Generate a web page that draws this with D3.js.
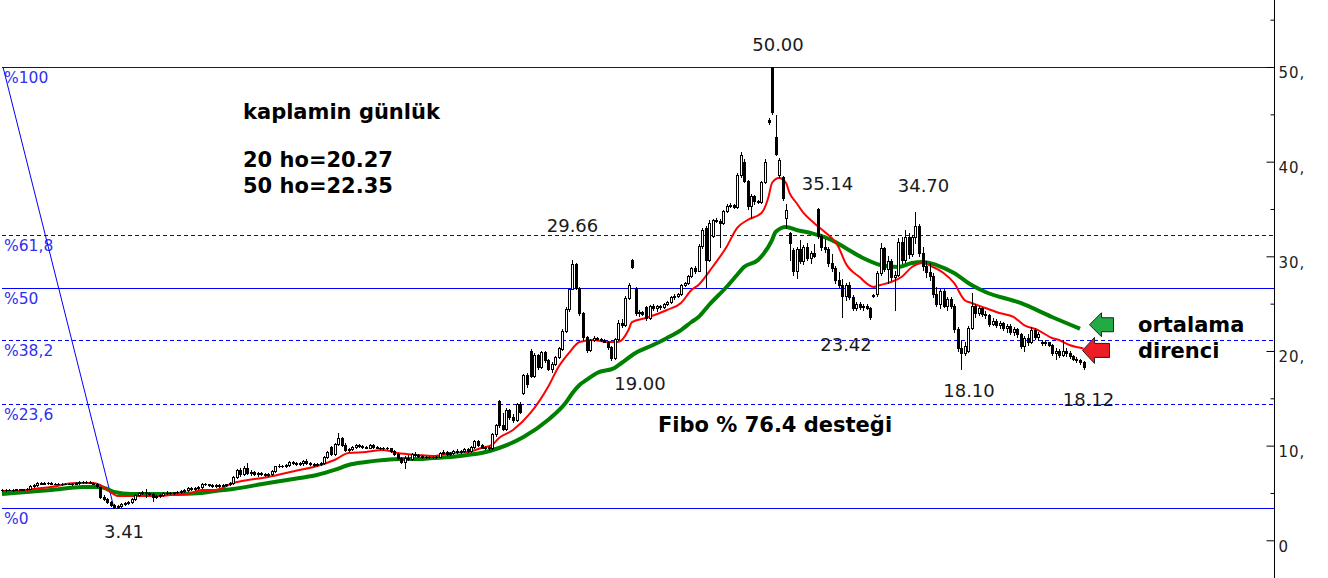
<!DOCTYPE html>
<html><head><meta charset="utf-8">
<script src="https://cdn.jsdelivr.net/npm/d3@7"></script>
<style>html,body{margin:0;padding:0;background:#fff;overflow:hidden}</style>
</head><body><svg id="c" width="1328" height="578"></svg>
<script>
// ---- DATA ----
// daily candles [open, high, low, close]
const candles = [
[5.3,5.4,5.2,5.3],[5.3,5.4,5.25,5.35],[5.35,5.4,5.3,5.3],[5.3,5.4,5.25,5.35],[5.35,5.45,5.3,5.4],[5.4,5.45,5.3,5.35],[5.35,5.4,5.3,5.4],[5.4,5.5,5.35,5.45],[5.45,5.8,5.4,5.7],[5.7,5.9,5.6,5.8],
[5.8,6.2,5.7,6.1],[6.1,6.2,5.95,6.0],[6.0,6.15,5.9,6.1],[6.1,6.2,6.0,6.05],[6.05,6.15,5.95,6.0],[6.0,6.1,5.9,6.0],[6.0,6.1,5.9,5.95],[5.95,6.05,5.85,6.0],[6.0,6.1,5.9,6.0],[6.0,6.05,5.9,5.95],
[5.95,6.05,5.85,6.0],[6.0,6.2,5.95,6.1],[6.1,6.3,6.0,6.2],[6.2,6.3,6.1,6.2],[6.2,6.3,6.1,6.15],[6.15,6.25,6.05,6.1],[6.1,6.2,5.9,6.0],[6.0,6.05,5.6,5.7],[5.6,5.6,4.5,4.6],[4.6,4.8,4.3,4.4],
[4.4,4.5,3.9,4.0],[4.0,4.1,3.6,3.7],[3.7,3.8,3.41,3.5],[3.5,3.7,3.45,3.6],[3.6,3.9,3.5,3.8],[3.8,4.0,3.7,3.9],[3.9,4.1,3.8,4.0],[4.0,4.5,3.95,4.4],[4.4,4.9,4.3,4.8],[4.8,5.1,4.7,5.0],
[5.0,5.2,4.9,5.1],[5.1,5.4,4.6,5.0],[5.0,5.1,4.8,4.9],[4.9,5.0,4.1,4.6],[4.6,4.8,4.5,4.7],[4.7,4.9,4.6,4.8],[4.8,5.1,4.7,5.0],[5.0,5.2,4.9,5.0],[5.0,5.1,4.9,5.0],[5.0,5.1,4.9,5.05],
[5.05,5.2,4.95,5.1],[5.1,5.3,5.0,5.2],[5.2,5.4,5.1,5.3],[5.3,5.6,5.2,5.5],[5.5,5.6,5.3,5.4],[5.4,5.6,5.35,5.5],[5.5,5.7,5.4,5.6],[5.6,6.1,5.5,6.0],[6.0,6.1,5.8,5.9],[5.9,6.0,5.7,5.8],
[5.8,5.9,5.6,5.7],[5.7,5.9,5.6,5.8],[5.8,5.9,5.65,5.75],[5.75,5.9,5.7,5.85],[5.85,6.0,5.75,5.9],[5.9,6.2,5.85,6.1],[6.1,6.8,6.0,6.7],[6.7,7.5,6.6,7.4],[7.4,7.6,6.8,7.0],[7.0,7.8,6.9,7.6],
[7.6,8.2,7.0,7.1],[7.1,7.4,6.9,7.2],[7.2,7.3,6.9,7.0],[7.0,7.2,6.8,7.1],[7.1,7.2,6.9,7.0],[7.0,7.1,6.8,6.9],[6.9,7.1,6.8,7.0],[7.0,7.4,6.9,7.3],[7.3,7.9,7.2,7.8],[7.8,8.1,7.7,7.9],
[7.9,8.0,7.7,7.8],[7.8,8.1,7.75,8.0],[8.0,8.4,7.9,8.3],[8.3,8.4,8.1,8.2],[8.2,8.3,8.0,8.1],[8.1,8.3,8.0,8.2],[8.2,8.5,8.0,8.4],[8.4,8.6,8.1,8.2],[8.2,8.3,8.0,8.1],[8.1,8.2,7.9,8.0],
[8.0,8.2,7.9,8.1],[8.1,8.3,8.0,8.2],[8.2,8.9,8.1,8.8],[8.8,9.4,8.7,9.3],[9.9,10.0,9.0,9.1],[9.1,10.3,9.0,10.2],[10.2,11.3,10.1,10.8],[10.8,10.9,10.0,10.1],[10.1,10.3,9.4,9.5],[9.5,9.8,9.3,9.6],
[9.6,10.0,9.5,9.9],[9.9,10.2,9.8,10.1],[10.1,10.2,9.9,10.0],[10.0,10.1,9.8,9.9],[9.9,10.0,9.7,9.8],[9.8,10.2,9.7,10.1],[10.1,10.2,9.8,9.9],[9.9,10.0,9.7,9.8],[9.8,9.9,9.6,9.7],[9.7,9.9,9.5,9.8],
[9.8,9.9,9.6,9.7],[9.7,9.8,9.3,9.4],[9.4,9.5,9.0,9.1],[9.1,9.2,8.6,8.7],[8.7,8.8,8.2,8.3],[8.3,8.9,7.6,8.7],[8.7,9.0,8.5,8.6],[8.6,9.2,8.5,9.1],[9.1,9.3,8.9,9.0],[9.0,9.1,8.8,8.9],
[8.9,9.0,8.7,8.8],[8.8,8.9,8.7,8.85],[8.85,8.95,8.7,8.8],[8.8,8.9,8.7,8.75],[8.75,8.9,8.7,8.85],[8.85,9.3,8.8,9.2],[9.2,9.5,9.1,9.3],[9.3,9.4,9.0,9.1],[9.1,9.3,9.0,9.2],[9.2,9.5,9.1,9.4],
[9.4,9.6,9.2,9.3],[9.3,9.5,9.2,9.4],[9.4,9.7,9.3,9.6],[9.6,9.7,9.3,9.4],[9.4,10.0,9.3,9.9],[9.9,10.6,9.8,10.5],[10.5,10.6,10.0,10.1],[10.1,10.2,9.7,9.8],[9.8,10.0,9.6,9.9],[9.9,10.0,9.5,9.7],
[9.7,11.3,9.6,11.2],[11.2,12.3,11.0,12.2],[14.7,14.8,12.0,12.2],[12.2,13.4,11.6,11.8],[11.8,14.0,11.7,13.8],[13.8,13.9,12.8,13.0],[13.0,13.3,12.5,12.7],[12.7,14.5,12.6,14.4],[14.4,14.6,13.4,13.6],[15.6,17.6,15.5,17.5],
[17.5,17.7,16.2,16.5],[20.0,20.2,17.2,17.4],[17.4,19.8,17.3,19.6],[19.6,19.7,18.1,18.3],[18.3,20.0,18.2,19.9],[19.9,20.0,18.8,19.0],[19.0,19.1,18.0,18.1],[18.1,18.8,17.8,18.6],[18.6,19.5,18.5,19.4],[19.4,20.4,19.3,20.3],
[20.2,22.3,20.1,22.1],[22.1,24.6,22.0,24.4],[24.4,26.7,24.2,26.5],[26.6,29.66,26.5,29.2],[29.2,29.3,26.5,26.7],[26.7,26.8,23.8,24.0],[24.0,24.1,21.2,21.5],[21.5,21.6,19.9,20.1],[20.1,21.3,20.0,21.2],[21.2,21.6,21.1,21.4],
[21.4,21.5,21.2,21.3],[21.3,21.4,21.1,21.2],[21.2,21.3,20.9,21.0],[21.0,21.1,20.2,20.4],[20.4,20.5,19.0,19.3],[19.3,21.4,19.2,21.3],[21.3,23.3,21.2,23.0],[23.0,23.4,22.5,22.7],[22.7,25.8,22.6,25.6],[25.6,27.2,25.5,27.0],
[29.6,29.7,28.8,28.9],[26.7,26.8,23.8,24.0],[24.0,24.3,23.7,24.1],[24.1,24.2,23.8,23.9],[24.6,24.8,23.3,23.5],[23.5,24.9,23.4,24.8],[24.8,25.0,24.3,24.5],[24.5,24.9,24.2,24.7],[24.7,24.9,24.4,24.6],[24.6,25.1,24.5,25.0],
[25.0,25.3,24.9,25.2],[25.2,25.8,25.1,25.7],[25.7,26.0,25.5,25.8],[25.8,26.1,25.7,26.0],[26.0,27.1,25.9,27.0],[27.0,27.3,26.9,27.2],[27.2,28.0,27.1,27.9],[27.9,28.9,27.8,28.8],[28.8,29.0,28.2,28.5],[28.5,31.3,28.4,31.1],
[31.1,33.0,30.9,32.8],[33.0,33.2,26.8,29.6],[29.6,33.8,29.5,33.5],[32.1,33.9,32.0,33.8],[33.8,34.0,33.6,33.7],[33.7,33.9,31.0,33.5],[33.5,34.9,33.4,34.8],[34.8,35.5,34.7,35.3],[35.3,35.6,35.2,35.4],[35.4,35.5,35.1,35.2],
[35.2,38.8,35.1,38.6],[38.6,41.0,38.4,40.7],[40.0,40.3,37.8,38.0],[38.0,38.1,35.0,35.3],[35.3,36.6,34.1,36.4],[36.4,36.5,35.5,35.8],[35.8,35.9,35.6,35.7],[35.7,38.0,35.6,37.8],[37.8,40.3,37.7,40.0],[44.4,44.6,44.0,44.2],
[50.0,50.0,45.0,45.2],[42.6,44.9,40.7,40.8],[38.6,40.4,38.4,40.2],[38.4,38.5,36.0,36.2],[34.1,35.5,33.0,34.9],[32.5,32.6,29.6,31.4],[30.7,30.9,28.0,28.5],[28.5,31.0,27.7,30.8],[30.8,31.7,29.3,29.5],[29.5,31.2,29.2,31.0],
[31.0,31.4,29.6,29.8],[29.8,30.6,29.3,30.4],[30.4,31.3,29.9,30.0],[35.0,35.14,31.9,32.1],[32.1,32.4,30.7,31.0],[31.0,31.8,30.5,30.8],[30.8,31.0,29.0,29.3],[29.3,30.2,28.5,28.8],[28.8,29.0,27.2,27.5],[27.5,28.3,26.8,27.0],
[27.0,27.6,23.6,25.8],[25.8,27.2,25.4,27.0],[27.0,27.3,25.5,25.7],[25.7,25.9,24.3,24.5],[24.5,25.2,24.3,25.0],[25.0,25.2,24.4,24.6],[24.6,25.0,24.3,24.8],[24.8,25.0,24.4,24.5],[24.5,24.6,23.42,23.6],[25.8,26.0,25.7,25.9],
[26.0,28.4,25.8,28.2],[28.2,31.4,28.0,30.9],[30.9,31.0,28.5,28.7],[28.7,30.0,27.2,29.5],[29.5,29.7,27.5,27.8],[27.8,28.5,24.3,28.0],[28.0,31.9,27.9,31.5],[31.5,32.0,29.3,29.6],[29.6,32.8,29.4,32.0],[32.0,32.5,29.8,30.2],
[30.2,32.3,30.0,32.0],[32.0,34.7,31.4,33.2],[33.2,33.4,30.0,30.4],[30.4,31.0,28.6,29.0],[29.0,29.5,27.8,28.3],[28.3,29.3,27.5,27.9],[27.9,28.2,25.7,26.0],[26.0,26.8,24.7,25.0],[25.0,26.6,24.5,26.3],[26.3,26.5,24.6,24.8],
[24.8,25.7,24.3,25.5],[25.5,25.7,24.5,24.7],[24.7,25.0,22.0,22.3],[22.3,22.5,20.0,20.3],[20.3,21.1,18.1,19.8],[19.8,21.0,19.6,20.5],[20.0,22.6,19.9,22.4],[22.4,26.1,22.3,24.8],[24.8,25.0,23.6,24.0],[24.0,24.7,23.8,24.5],
[24.5,24.6,23.7,23.9],[23.9,24.2,23.5,23.8],[23.8,23.9,22.6,22.9],[22.9,23.5,22.7,23.2],[23.2,23.4,22.5,22.7],[22.7,23.2,22.4,23.0],[23.0,23.1,22.2,22.4],[22.4,22.8,22.0,22.6],[22.6,22.9,21.8,22.0],[22.0,22.5,21.7,22.3],
[22.3,22.4,21.5,21.8],[21.8,21.9,20.3,20.5],[20.5,21.6,20.0,21.4],[21.4,21.8,20.6,20.9],[20.9,22.5,20.8,22.2],[22.2,22.4,21.3,21.5],[21.5,22.0,21.2,21.8],[21.0,21.2,20.6,20.8],[20.8,21.1,20.6,20.9],[20.9,21.0,20.5,20.6],
[20.6,20.7,19.6,19.8],[19.8,20.3,19.2,20.0],[20.0,20.2,19.4,19.6],[19.6,21.2,19.5,20.0],[20.0,20.3,19.5,19.8],[19.8,20.0,19.3,19.5],[19.5,19.6,19.0,19.2],[19.2,19.4,18.8,19.0],[19.0,19.1,18.6,18.8],[18.8,18.9,18.12,18.3]
];

// 20-day moving average: [bar, value]
const ma20 = [[0,5.21],[5,5.21],[9,5.42],[14,5.63],[21,6.05],[26,6.05],[28,5.84],[31,5.10],[33,4.68],[37,4.68],[45,4.68],[48,4.79],[53,4.89],[57,5.31],[61,5.31],[66,6.05],[76,6.69],[85,7.43],[89,7.74],[95,8.48],[99,9.22],[104,9.33],[109,9.54],[113,9.22],[119,9.01],[123,8.91],[128,9.22],[133,9.33],[137,9.75],[140,10.07],[142,10.81],[146,11.65],[151,13.45],[156,16.19],[159,18.31],[162,19.79],[165,20.95],[169,21.16],[173,20.95],[176,20.95],[179,22.21],[180,23.06],[184,23.48],[190,24.33],[194,25.07],[197,26.44],[199,26.97],[203,28.87],[207,30.99],[210,32.99],[213,33.84],[217,34.58],[219,36.27],[220,37.75],[222,38.28],[224,37.75],[225,36.71],[227,35.63],[229,34.58],[232,33.52],[235,32.6],[239,30.99],[241,29.29],[245,27.81],[249,26.76],[251,26.97],[254,27.29],[257,27.81],[260,28.87],[263,29.29],[266,28.87],[269,28.24],[272,27.19],[275,25.39],[277,25.07],[281,24.54],[285,24.01],[289,23.59],[292,22.74],[296,22.21],[300,21.37],[302,21.16],[305,20.63],[309,20.27]];

// 50-day moving average: [bar, value]
const ma50 = [[0,4.89],[7,5.10],[14,5.31],[23,5.63],[28,5.63],[30,5.42],[32,5.10],[37,4.89],[49,4.89],[57,5.0],[61,5.21],[66,5.42],[76,6.05],[85,6.58],[90,6.90],[95,7.43],[99,7.96],[104,8.27],[109,8.48],[114,8.59],[119,8.59],[123,8.69],[128,8.80],[133,9.01],[137,9.22],[142,9.75],[149,10.91],[156,12.71],[161,14.50],[163,15.56],[165,16.41],[167,16.94],[170,17.68],[175,18.21],[177,18.73],[181,19.79],[186,20.63],[190,21.37],[194,22.21],[197,23.06],[199,23.59],[202,24.86],[207,26.76],[210,28.03],[212,28.87],[216,29.61],[220,31.72],[221,32.57],[224,33.10],[227,32.78],[231,32.46],[235,32.04],[237,31.72],[241,30.88],[246,29.82],[251,29.08],[256,28.87],[260,29.29],[263,29.40],[267,29.08],[272,28.24],[277,26.97],[281,26.23],[291,25.07],[300,23.59],[308,22.35]];

const swingHigh = {bar: 0, value: 50.00};
const swingLow = {bar: 32, value: 3.41};
const fibRatios = [0, 0.236, 0.382, 0.5, 0.618, 1];
const fibLabels = ["%0", "%23,6", "%38,2", "%50", "%61,8", "%100"];
const fibDashed = [false, true, true, false, true, false];

const axisMajor = [0, 10, 20, 30, 40, 50];
const axisMinor = [5, 15, 25, 35, 45, 55];

const priceNotes = [
  {text: "50.00", bar: 220, value: 50.00, dx: 6, dy: -16},
  {text: "35.14", bar: 233, value: 35.14, dx: 10, dy: -18},
  {text: "34.70", bar: 261, value: 34.70, dx: 8, dy: -20},
  {text: "29.66", bar: 163, value: 29.66, dx: 0, dy: -28},
  {text: "19.00", bar: 174, value: 19.00, dx: 29, dy: 30},
  {text: "23.42", bar: 248, value: 23.42, dx: -24, dy: 32},
  {text: "18.10", bar: 274, value: 18.10, dx: 8, dy: 28},
  {text: "18.12", bar: 309, value: 18.12, dx: 5, dy: 37},
  {text: "3.41", bar: 32, value: 3.41, dx: 10, dy: 30}
];
const titleLines = ["kaplamin günlük", "", "20 ho=20.27", "50 ho=22.35"];
const fiboNote = "Fibo % 76.4 desteği";
const maNote = ["ortalama", "direnci"];
const ma20Last = 20.27, ma50Last = 22.35;

// ---- CHART ----
const W = 1328, H = 578;
const svg = d3.select("#c");
svg.append("rect").attr("width", W).attr("height", H).attr("fill", "#fff");

const x = d3.scaleLinear().domain([0, candles.length - 1]).range([2, 1083.5]);
const y = d3.scaleLinear().domain([0, 50]).range([540.3, 67]);
const axisX = 1274;
const FONT = "'DejaVu Sans', Verdana, sans-serif";

// Fibonacci levels
const fibG = svg.append("g");
const span = swingHigh.value - swingLow.value;
fibRatios.forEach((r, k) => {
  const v = swingLow.value + r * span;
  const yy = Math.round(y(v)) + 0.5;
  fibG.append("line").attr("x1", 2).attr("x2", axisX).attr("y1", yy).attr("y2", yy)
    .attr("stroke", "#0000ff").attr("stroke-width", 1)
    .attr("stroke-dasharray", fibDashed[k] ? "4,3" : null);
  fibG.append("text").attr("x", 4).attr("y", yy + 15.5).text(fibLabels[k])
    .attr("font-family", FONT).attr("font-size", 15.5).attr("fill", "#3030f0");
});
fibG.append("line")
  .attr("x1", x(swingHigh.bar) + 1).attr("y1", y(swingHigh.value))
  .attr("x2", x(swingLow.bar)).attr("y2", y(swingLow.value))
  .attr("stroke", "#0000ff").attr("stroke-width", 1);

// moving averages (drawn under candles)
const lineGen = d3.line().x(d => x(d[0])).y(d => y(d[1])).curve(d3.curveMonotoneX);
svg.append("path").datum(ma50).attr("d", lineGen).attr("fill", "none")
  .attr("stroke", "#008000").attr("stroke-width", 4);
svg.append("path").datum(ma20).attr("d", lineGen).attr("fill", "none")
  .attr("stroke", "#ff0000").attr("stroke-width", 2);

// candles
const cg = svg.append("g").attr("shape-rendering", "crispEdges");
candles.forEach((d, i) => {
  const [o, h, l, c] = d;
  const px = Math.round(x(i));
  cg.append("line").attr("x1", px + 0.5).attr("x2", px + 0.5)
    .attr("y1", Math.round(y(h))).attr("y2", Math.round(y(l)) + 1)
    .attr("stroke", "#000").attr("stroke-width", 1);
  const top = Math.round(y(Math.max(o, c))), bot = Math.round(y(Math.min(o, c)));
  const up = c > o;
  cg.append("rect").attr("x", px - 0.5).attr("y", top + 0.5)
    .attr("width", 2).attr("height", Math.max(0.01, bot - top))
    .attr("fill", up ? "#fff" : "#000").attr("stroke", "#000").attr("stroke-width", 1);
});

// right axis
svg.append("line").attr("x1", axisX + 0.5).attr("x2", axisX + 0.5).attr("y1", 0).attr("y2", H)
  .attr("stroke", "#000").attr("stroke-width", 1);
const majorAxis = d3.axisRight(y).tickValues(axisMajor).tickSize(-8).tickPadding(4)
  .tickFormat(d => d === 0 ? "0" : d + ",");
const ag = svg.append("g").attr("transform", `translate(${axisX + 0.5},0)`).call(majorAxis);
ag.select(".domain").remove();
ag.selectAll("text").attr("font-family", FONT).attr("font-size", 15).attr("fill", "#222")
  .attr("letter-spacing", 1).attr("dy", "0.72em").attr("x", 4);
ag.selectAll(".tick line").attr("stroke", "#000");
const minorAxis = d3.axisRight(y).tickValues(axisMinor).tickSize(-4).tickFormat("");
const mg = svg.append("g").attr("transform", `translate(${axisX + 0.5},0)`).call(minorAxis);
mg.select(".domain").remove();
mg.selectAll(".tick line").attr("stroke", "#000");

// price annotations
svg.append("g").selectAll("text").data(priceNotes).join("text")
  .attr("x", d => x(d.bar) + d.dx).attr("y", d => y(d.value) + d.dy)
  .attr("text-anchor", "middle").attr("font-family", FONT).attr("font-size", 18)
  .attr("fill", "#1a1a1a").text(d => d.text);

// bold notes
const tg = svg.append("g").attr("font-family", FONT).attr("font-weight", "bold")
  .attr("font-size", 21).attr("fill", "#000");
const titleY = [119, 143, 167, 193];
titleLines.forEach((t, k) => { if (t) tg.append("text").attr("x", 243).attr("y", titleY[k]).text(t); });
tg.append("text").attr("x", 658).attr("y", 432).text(fiboNote);
tg.append("text").attr("x", 1138).attr("y", 332).text(maNote[0]);
tg.append("text").attr("x", 1138).attr("y", 358).text(maNote[1]);

// arrows pointing at MA ends
function arrow(tipX, tipY, headW, headH, tailL, tailH, fill) {
  const p = [[tipX, tipY], [tipX + headW, tipY - headH / 2], [tipX + headW, tipY - tailH / 2],
    [tipX + headW + tailL, tipY - tailH / 2], [tipX + headW + tailL, tipY + tailH / 2],
    [tipX + headW, tipY + tailH / 2], [tipX + headW, tipY + headH / 2]];
  svg.append("polygon").attr("points", p.map(q => q.join(",")).join(" "))
    .attr("fill", fill).attr("stroke", "#222").attr("stroke-width", 1);
}
arrow(x(candles.length - 1) + 6, y(ma50Last) - 4, 12, 24, 12, 14, "#22aa44");
arrow(x(candles.length - 1) - 1, y(ma20Last) + 2, 12, 26, 15, 14, "#ee1c24");
</script></body></html>
